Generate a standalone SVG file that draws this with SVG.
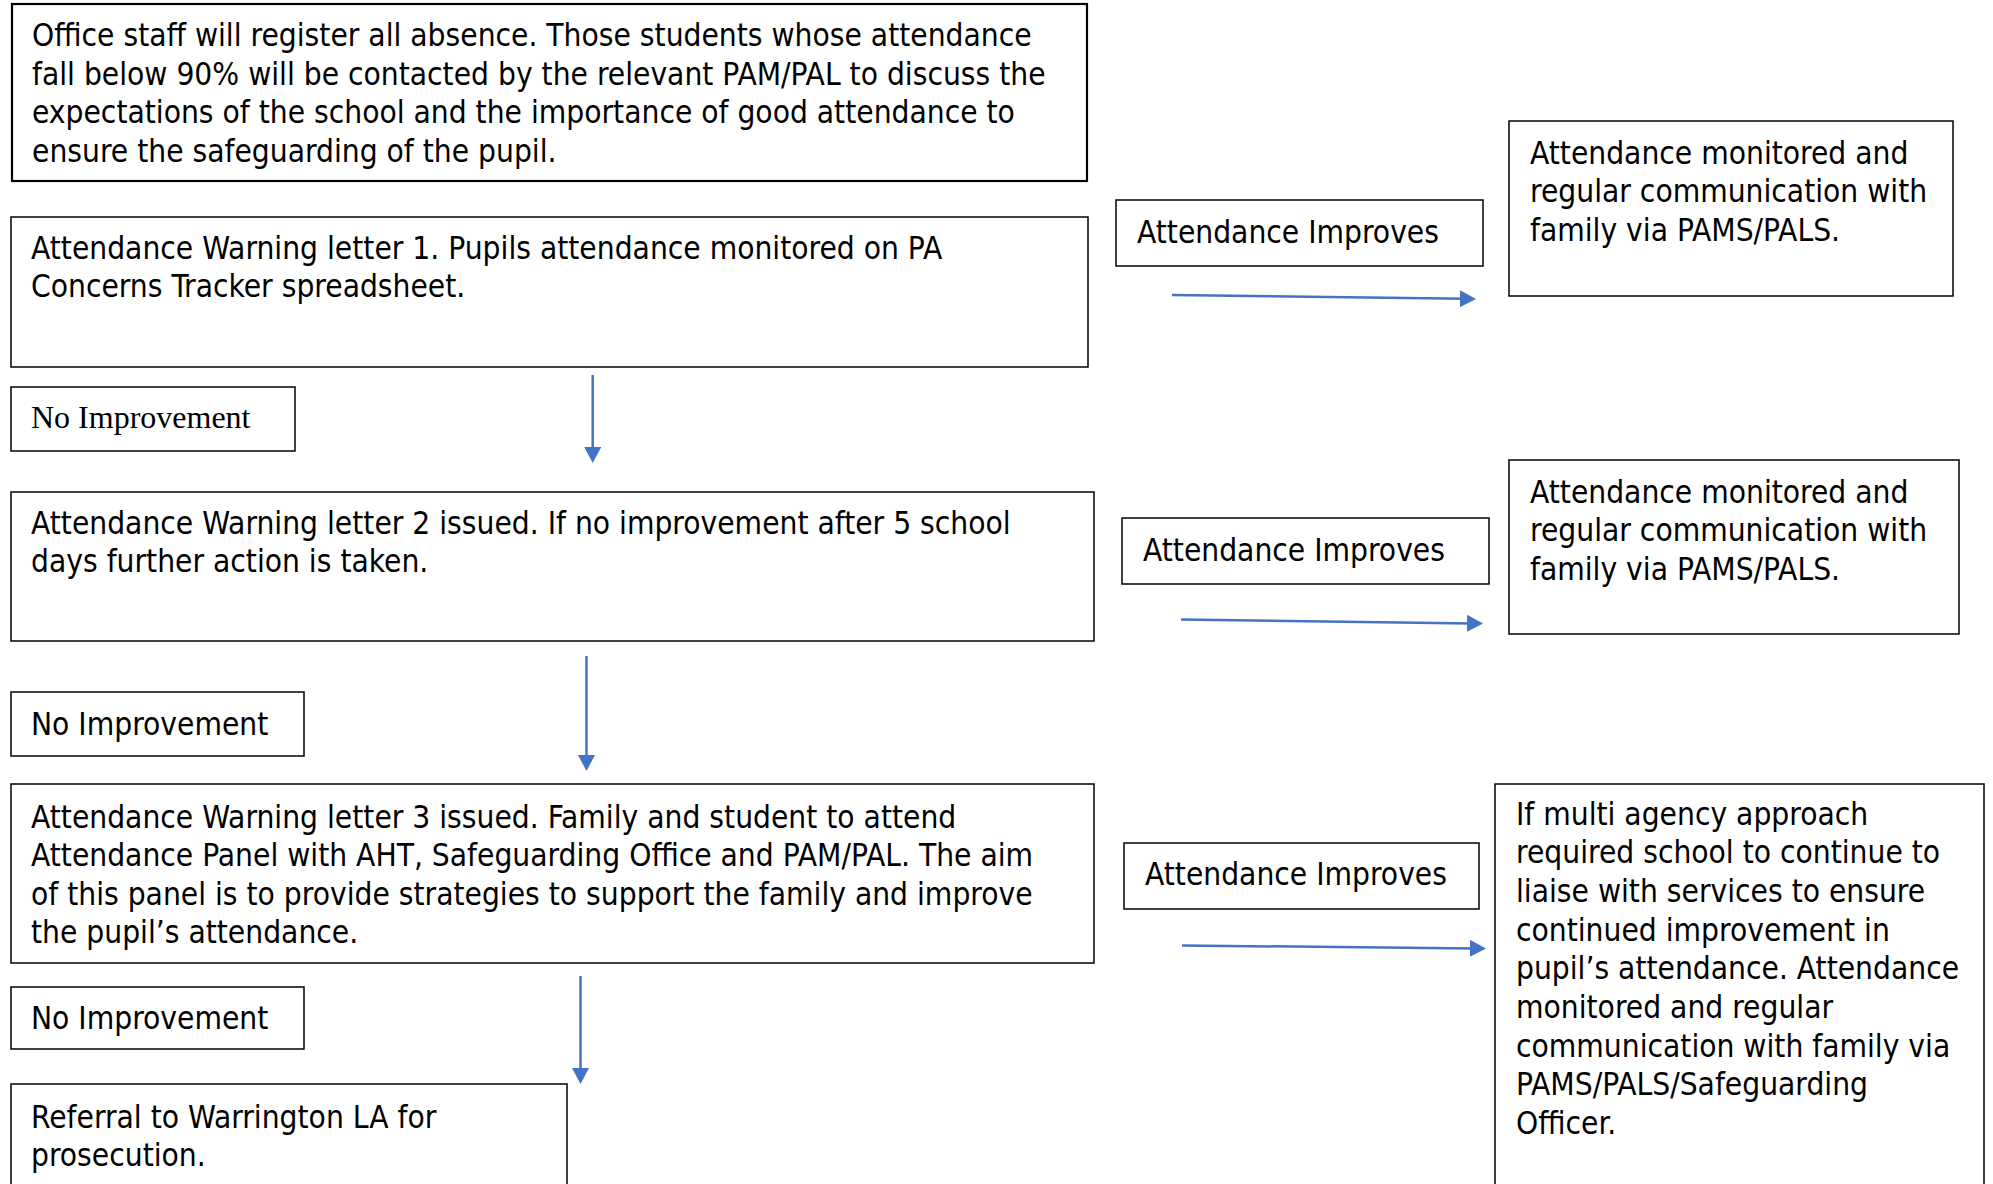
<svg xmlns="http://www.w3.org/2000/svg" width="1993" height="1184" viewBox="0 0 1993 1184">
<style>
.box{fill:#fff;stroke:#000;stroke-width:1.5}
.box2{fill:#fff;stroke:#000;stroke-width:2.2}
.t{font-family:"DejaVu Sans Condensed","DejaVu Sans",sans-serif;font-stretch:condensed;font-size:31.4px;fill:#000}
.s{font-family:"Liberation Serif","Times New Roman",serif;font-size:32px;fill:#000}
.arr{fill:none;stroke:#4472C4;stroke-width:2.5;marker-end:url(#ah)}
</style>
<defs>
<marker id="ah" markerUnits="userSpaceOnUse" markerWidth="17" markerHeight="17" refX="5" refY="8.5" orient="auto" viewBox="0 0 17 17">
<path d="M0,0 L16,8.5 L0,17 Z" fill="#4472C4"/>
</marker>
</defs>
<rect width="1993" height="1184" fill="#fff"/>
<g id="intro">
<rect class="box2" x="12" y="4" width="1075" height="177"/>
<text class="t" x="32" y="46">Office staff will register all absence. Those students whose attendance</text>
<text class="t" x="32" y="84.5">fall below 90% will be contacted by the relevant PAM/PAL to discuss the</text>
<text class="t" x="32" y="123">expectations of the school and the importance of good attendance to</text>
<text class="t" x="32" y="161.5">ensure the safeguarding of the pupil.</text>
</g>
<g id="letter1">
<rect class="box" x="11" y="217" width="1077" height="150"/>
<text class="t" x="31" y="258.5">Attendance Warning letter 1. Pupils attendance monitored on PA</text>
<text class="t" x="31" y="297">Concerns Tracker spreadsheet.</text>
</g>
<g id="noimp1">
<rect class="box" x="11" y="387" width="284" height="64"/>
<text class="s" x="31" y="428">No Improvement</text>
</g>
<g id="letter2">
<rect class="box" x="11" y="492" width="1083" height="149"/>
<text class="t" x="31" y="533.5">Attendance Warning letter 2 issued. If no improvement after 5 school</text>
<text class="t" x="31" y="572">days further action is taken.</text>
</g>
<g id="noimp2">
<rect class="box" x="11" y="692" width="293" height="64"/>
<text class="t" x="31" y="734.5">No Improvement</text>
</g>
<g id="letter3">
<rect class="box" x="11" y="784" width="1083" height="179"/>
<text class="t" x="31" y="827.5">Attendance Warning letter 3 issued. Family and student to attend</text>
<text class="t" x="31" y="866">Attendance Panel with AHT, Safeguarding Office and PAM/PAL. The aim</text>
<text class="t" x="31" y="904.5">of this panel is to provide strategies to support the family and improve</text>
<text class="t" x="31" y="943">the pupil’s attendance.</text>
</g>
<g id="noimp3">
<rect class="box" x="11" y="987" width="293" height="62"/>
<text class="t" x="31" y="1028.5">No Improvement</text>
</g>
<g id="referral">
<rect class="box" x="11" y="1084" width="556" height="130"/>
<text class="t" x="31" y="1127.5">Referral to Warrington LA for</text>
<text class="t" x="31" y="1166">prosecution.</text>
</g>
<g id="improves1">
<rect class="box" x="1116" y="200" width="367" height="66"/>
<text class="t" x="1137" y="242.5">Attendance Improves</text>
</g>
<g id="monitored1">
<rect class="box" x="1509" y="121" width="444" height="175"/>
<text class="t" x="1530" y="163.5">Attendance monitored and</text>
<text class="t" x="1530" y="202">regular communication with</text>
<text class="t" x="1530" y="240.5">family via PAMS/PALS.</text>
</g>
<g id="improves2">
<rect class="box" x="1122" y="518" width="367" height="66"/>
<text class="t" x="1143" y="560.5">Attendance Improves</text>
</g>
<g id="monitored2">
<rect class="box" x="1509" y="460" width="450" height="174"/>
<text class="t" x="1530" y="502.5">Attendance monitored and</text>
<text class="t" x="1530" y="541">regular communication with</text>
<text class="t" x="1530" y="579.5">family via PAMS/PALS.</text>
</g>
<g id="improves3">
<rect class="box" x="1124" y="843" width="355" height="66"/>
<text class="t" x="1145" y="884.5">Attendance Improves</text>
</g>
<g id="multiagency">
<rect class="box" x="1495" y="784" width="489" height="430"/>
<text class="t" x="1516" y="824.5">If multi agency approach</text>
<text class="t" x="1516" y="863.2">required school to continue to</text>
<text class="t" x="1516" y="901.9">liaise with services to ensure</text>
<text class="t" x="1516" y="940.6">continued improvement in</text>
<text class="t" x="1516" y="979.3">pupil’s attendance. Attendance</text>
<text class="t" x="1516" y="1018">monitored and regular</text>
<text class="t" x="1516" y="1056.7">communication with family via</text>
<text class="t" x="1516" y="1095.4">PAMS/PALS/Safeguarding</text>
<text class="t" x="1516" y="1134.1">Officer.</text>
</g>
<g id="connectors">
<line class="arr" x1="592.7" y1="375" x2="592.7" y2="452"/>
<line class="arr" x1="586.5" y1="656" x2="586.5" y2="760"/>
<line class="arr" x1="580.5" y1="976" x2="580.5" y2="1073"/>
<line class="arr" x1="1172" y1="295" x2="1465" y2="298.8"/>
<line class="arr" x1="1181" y1="619.5" x2="1472" y2="623.4"/>
<line class="arr" x1="1182" y1="945.5" x2="1475" y2="948.4"/>
</g>
</svg>
